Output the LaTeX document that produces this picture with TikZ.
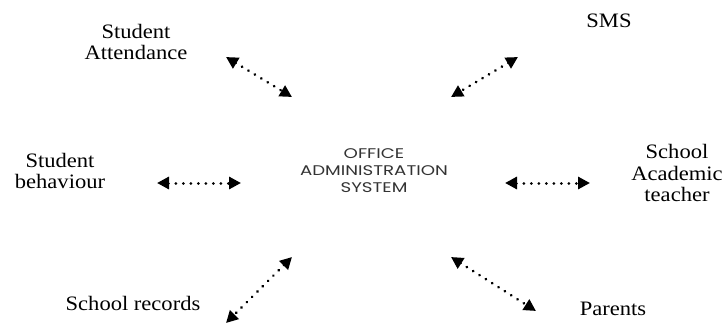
\documentclass[tikz,border=0pt]{standalone}
\usepackage{fontspec}
\setmainfont[FakeStretch=1.1]{Liberation Serif}
\newfontfamily\centrefont[FakeStretch=1.3]{Poppins}
\usepackage{xcolor}
\usetikzlibrary{positioning, arrows.meta}

\tikzset{
    lbl/.style={align=center, font=\fontsize{20.5}{21.5}\selectfont, inner sep=0pt},
    link/.style={line width=3pt, dash pattern=on 0.01pt off 7.5pt, line cap=round,
        {Triangle[length=12pt,width=12pt]}-{Triangle[length=12pt,width=12pt]}}
}

\begin{document}
\begin{tikzpicture}[x=1pt, y=-1pt]
        \useasboundingbox (0,0) rectangle (725,327);
        % labels
        \node[lbl] (att) at (136,42) {Student\\Attendance};
        \node[lbl] (sms) at (609,21) {SMS};
        \node[lbl] (beh) at (60,171) {Student\\behaviour};
        \node[lbl] (aca) at (677,173) {School\\Academic\\teacher};
        \node[lbl] (rec) at (133,303) {School records};
        \node[lbl] (par) at (613,309) {Parents};
        \node[align=center, inner sep=0pt, text=black!80, font=\centrefont\fontsize{14}{17}\selectfont] (oas) at (374,171) {OFFICE\\ADMINISTRATION\\SYSTEM};
        % arrow ends
        \coordinate (SA1) at (226,57);
        \coordinate (SA2) at (292,97);
        \coordinate (SM1) at (518,57);
        \coordinate (SM2) at (451,97);
        \coordinate (SB1) at (157,183);
        \coordinate (SB2) at (241,183);
        \coordinate (AT1) at (505,183);
        \coordinate (AT2) at (590,183);
        \coordinate (SR1) at (292,257);
        \coordinate (SR2) at (226,323);
        \coordinate (PA1) at (451,257);
        \coordinate (PA2) at (536,311);
        \draw[link] (SA1) -- (SA2);
        \draw[link] (SM1) -- (SM2);
        \draw[link] (SB1) -- (SB2);
        \draw[link] (AT1) -- (AT2);
        \draw[link] (SR1) -- (SR2);
        \draw[link] (PA1) -- (PA2);
\end{tikzpicture}
\end{document}
